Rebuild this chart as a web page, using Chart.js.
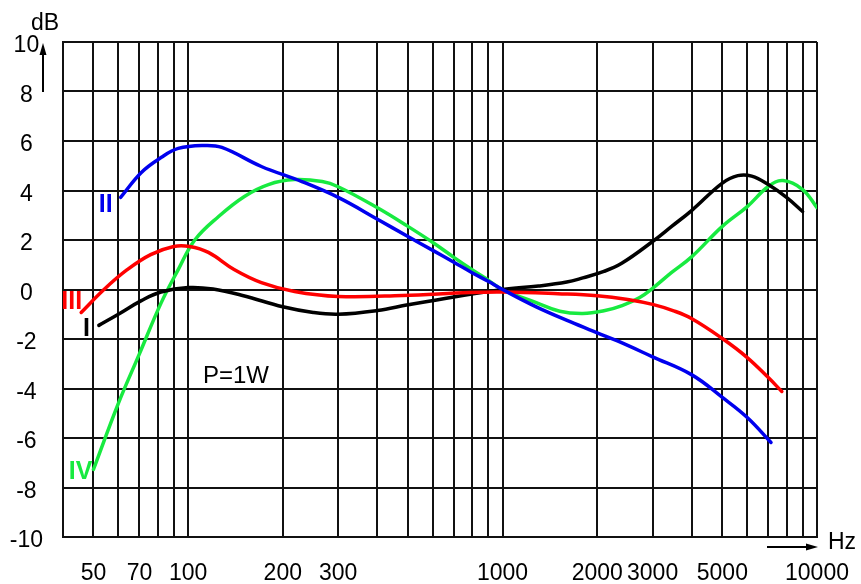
<!DOCTYPE HTML>
<html lang="en">
<head>
    <meta charset="UTF-8">
    <title>Frequenzgang</title>
    <style>
        body {
            margin: 0;
            padding: 0;
            background-color: #fff;
        }
        #chart-container {
            width: 861px;
            height: 584px;
        }
    </style>
</head>
<body>
    <div id="chart-container">
        <canvas id="chart" width="861" height="584"></canvas>
    </div>

    <script src="https://cdn.jsdelivr.net/npm/chart.js"></script>
    <script>
        // Gitterlinien und beschriftete Frequenzen (Hz)
        const gridFreqs = [40, 50, 60, 70, 80, 90, 100, 200, 300, 400, 500, 600, 700, 800, 900,
            1000, 2000, 3000, 4000, 5000, 6000, 7000, 8000, 9000, 10000];
        const labelFreqs = [50, 70, 100, 200, 300, 1000, 2000, 3000, 5000, 10000];

        // Kurve I (schwarz)
        const freqI = [52, 60, 71, 82, 100, 120, 150, 200, 250, 300, 400, 500, 700, 1000,
            1300, 1600, 1800, 2100, 2400, 3000, 3450, 4000, 5000, 5600, 6200, 7000, 8000, 9000];
        const dbI = [-1.45, -1.0, -0.45, -0.1, 0.08, 0.02, -0.25, -0.7, -0.93, -1.0, -0.85, -0.62, -0.3, 0,
            0.14, 0.3, 0.47, 0.73, 1.07, 1.94, 2.55, 3.2, 4.3, 4.6, 4.58, 4.24, 3.72, 3.15];

        // Kurve II (blau)
        const freqII = [61, 71, 82, 93, 112, 128, 171, 230, 300, 400, 500, 600, 700, 800, 900, 1000,
            1280, 1640, 2000, 2320, 3000, 4000, 5000, 6000, 7140];
        const dbII = [3.72, 4.73, 5.33, 5.7, 5.82, 5.74, 4.97, 4.36, 3.72, 2.84, 2.14, 1.58, 1.1, 0.68, 0.33, 0.0,
            -0.7, -1.3, -1.75, -2.08, -2.72, -3.45, -4.36, -5.17, -6.18];

        // Kurve III (rot)
        const freqIII = [45.7, 54, 64, 76, 90, 101, 116, 140, 171, 218, 300, 480, 790, 1000,
            1500, 2000, 2500, 3000, 3500, 4000, 5000, 6000, 7000, 7730];
        const dbIII = [-0.93, 0, 0.8, 1.41, 1.74, 1.74, 1.5, 0.81, 0.28, -0.08, -0.28, -0.24, -0.12, -0.1,
            -0.17, -0.25, -0.4, -0.6, -0.86, -1.18, -1.98, -2.75, -3.56, -4.12];

        // Kurve IV (grün)
        const freqIV = [50, 60, 70, 82, 93, 105, 125, 151, 180, 218, 267, 300, 400, 500, 600, 700, 800, 900,
            1000, 1280, 1520, 1800, 2100, 2400, 2730, 3000, 3450, 4000, 5000, 6000, 7000, 7800, 9000, 10000];
        const dbIV = [-7.27, -4.6, -2.6, -0.55, 0.8, 2.0, 2.95, 3.76, 4.24, 4.44, 4.36, 4.15, 3.3, 2.55, 1.9, 1.3, 0.8, 0.38,
            0.0, -0.53, -0.88, -0.97, -0.86, -0.65, -0.32, 0.05, 0.69, 1.33, 2.55, 3.35, 4.16, 4.4, 4.04, 3.31];

        const fontName = "'Liberation Sans', Arial, sans-serif";

        function toPoints(freqs, dbs) {
            return freqs.map((f, i) => ({ x: f, y: dbs[i] }));
        }

        function curve(label, freqs, dbs, color, dx, dy) {
            return {
                label: label,
                data: toPoints(freqs, dbs),
                borderColor: color,
                borderWidth: 3.5,
                pointRadius: 0,
                showLine: true,
                fill: false,
                tension: 0.4,
                borderCapStyle: 'round',
                tagDx: dx,
                tagDy: dy
            };
        }

        // Beschriftungen: römische Ziffern, dB/Hz-Pfeile, P=1W
        const notes = {
            id: 'notes',
            afterDraw(chart) {
                const ctx = chart.ctx;
                const xs = chart.scales.x;
                const ys = chart.scales.y;
                ctx.save();
                ctx.textBaseline = 'middle';

                // Kurvennamen links vom Kurvenanfang
                ctx.font = 'bold 25px ' + fontName;
                ctx.textAlign = 'right';
                chart.data.datasets.forEach(ds => {
                    const p = ds.data[0];
                    ctx.fillStyle = ds.borderColor;
                    ctx.fillText(ds.label, xs.getPixelForValue(p.x) + ds.tagDx, ys.getPixelForValue(p.y) + ds.tagDy);
                });

                ctx.fillStyle = '#000';
                ctx.strokeStyle = '#000';
                ctx.font = '23px ' + fontName;
                ctx.textAlign = 'center';
                ctx.fillText('dB', 45, 24);
                ctx.textAlign = 'left';
                ctx.fillText('Hz', 828, 543);
                ctx.font = '24px ' + fontName;
                ctx.fillText('P=1W', 203, 376);

                // Pfeil nach oben
                ctx.lineWidth = 2;
                ctx.beginPath();
                ctx.moveTo(43, 92);
                ctx.lineTo(43, 52);
                ctx.stroke();
                ctx.beginPath();
                ctx.moveTo(43, 43);
                ctx.lineTo(39.5, 55);
                ctx.lineTo(46.5, 55);
                ctx.closePath();
                ctx.fill();

                // Pfeil nach rechts
                ctx.beginPath();
                ctx.moveTo(767, 547);
                ctx.lineTo(808, 547);
                ctx.stroke();
                ctx.beginPath();
                ctx.moveTo(818, 547);
                ctx.lineTo(806, 543.5);
                ctx.lineTo(806, 550.5);
                ctx.closePath();
                ctx.fill();
                ctx.restore();
            }
        };

        const chartCtx = document.getElementById('chart').getContext('2d');
        const chart = new Chart(chartCtx, {
            type: 'scatter',
            data: {
                datasets: [
                    curve('II', freqII, dbII, '#0000ee', -8, 8),
                    curve('III', freqIII, dbIII, '#ff0000', 1, -10),
                    curve('I', freqI, dbI, '#000000', -9, 4),
                    curve('IV', freqIV, dbIV, '#18ea40', -1, 3)
                ]
            },
            options: {
                responsive: false,
                animation: false,
                devicePixelRatio: 1,
                layout: { padding: { top: 42, right: 44, left: 0, bottom: 0 } },
                plugins: {
                    legend: { display: false },
                    tooltip: { enabled: false }
                },
                scales: {
                    x: {
                        type: 'logarithmic',
                        min: 40,
                        max: 10000,
                        afterBuildTicks: axis => {
                            axis.ticks = gridFreqs.map(v => ({ value: v }));
                        },
                        afterFit: axis => {
                            axis.height = 47;
                            axis.paddingLeft = 0;
                            axis.paddingRight = 0;
                        },
                        grid: { color: '#111', lineWidth: 2, drawTicks: false },
                        border: { color: '#111', width: 2 },
                        ticks: {
                            autoSkip: false,
                            maxRotation: 0,
                            padding: 23,
                            color: '#000',
                            font: { family: fontName, size: 23 },
                            callback: v => labelFreqs.includes(v) ? String(v) : ''
                        }
                    },
                    y: {
                        min: -10,
                        max: 10,
                        afterFit: axis => {
                            axis.width = 63;
                            axis.paddingTop = 0;
                            axis.paddingBottom = 0;
                        },
                        grid: { color: '#111', lineWidth: 2, drawTicks: false },
                        border: { color: '#111', width: 2 },
                        ticks: {
                            stepSize: 2,
                            crossAlign: 'center',
                            padding: 20,
                            labelOffset: 4,
                            color: '#000',
                            font: { family: fontName, size: 23 }
                        }
                    }
                }
            },
            plugins: [notes]
        });
    </script>
</body>
</html>
